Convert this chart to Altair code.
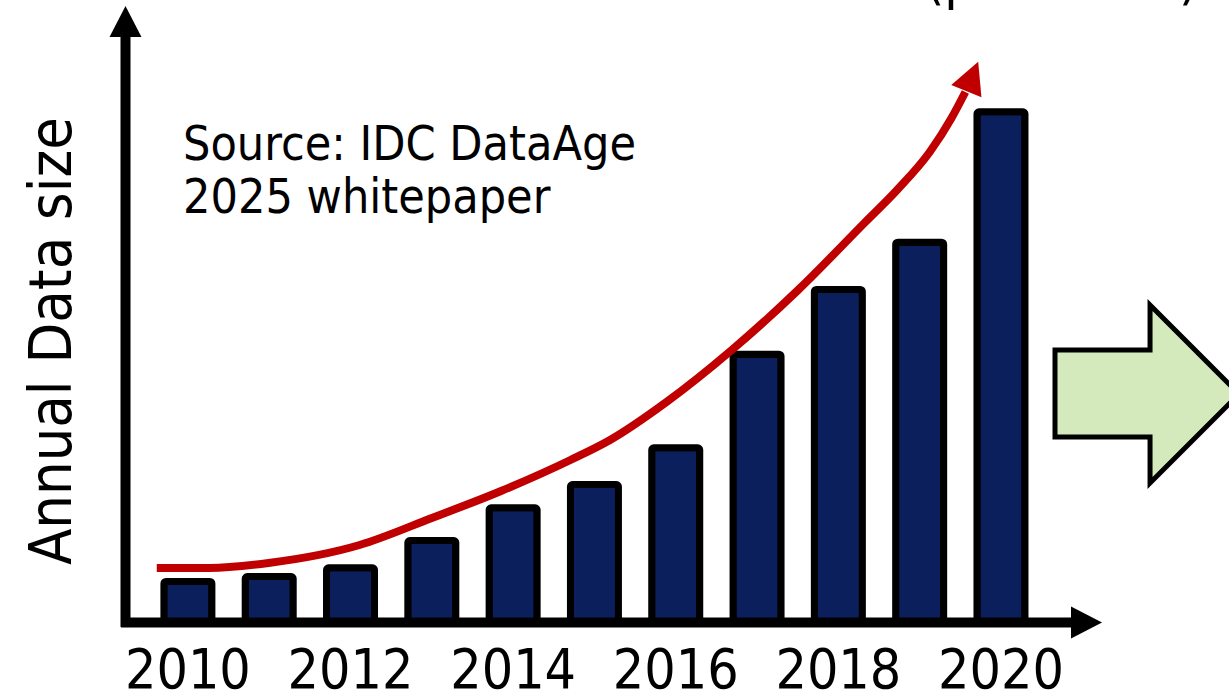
import altair as alt
import pandas as pd

# ---- data ----
years = [2010, 2011, 2012, 2013, 2014, 2015, 2016, 2017, 2018, 2019, 2020]
sizes = [5.2, 5.8, 6.9, 10.3, 14.4, 17.3, 21.9, 33.6, 41.7, 47.6, 63.9]
label_years = [2010, 2012, 2014, 2016, 2018, 2020]
label_texts = ["2010", "2012", "2014", "2016", "2018", "2020"]

trend_years = [2009.617, 2010.262, 2010.992, 2012.112, 2013.0, 2013.852,
               2014.705, 2015.192, 2015.886, 2016.689, 2017.505, 2018.32, 2018.722,
               2019.124, 2019.392, 2019.562]
trend_values = [6.875, 6.875, 7.5, 9.75, 13.125, 16.5, 20.375, 22.875, 27.625,
                34.125, 41.625, 50.0, 54.125, 58.875, 63.125, 66.375]
trend_head_year = [2019.647]
trend_head_value = [68.31]

source_text = "Source: IDC DataAge\n2025 whitepaper"
y_title = "Annual Data size"
top_text = "(predicted)"

FONT = "DejaVu Sans Condensed, DejaVu Sans, sans-serif"
NAVY = "#0b1f5c"
RED = "#c00000"
GREEN = "#d4eabd"

bars_df = pd.DataFrame({"year": years, "size": sizes})
labels_df = pd.DataFrame({"year": label_years, "label": label_texts})
trend_df = pd.DataFrame({"year": trend_years, "value": trend_values})
head_df = pd.DataFrame({"year": trend_head_year, "value": trend_head_value})
one = pd.DataFrame({"k": [0]})

xs = alt.Scale(domain=[2009.2879, 2021.1564], nice=False, zero=False)
ys = alt.Scale(domain=[0, 77.25], nice=False, zero=True)

bars = alt.Chart(bars_df).mark_bar(
    width=48, fill=NAVY, stroke="black", strokeWidth=7, strokeJoin="round", cornerRadius=2
).encode(
    x=alt.X("year:Q", scale=xs, axis=None),
    y=alt.Y("size:Q", scale=ys, axis=None),
)

tick_labels = alt.Chart(labels_df).mark_text(
    align="center", baseline="alphabetic", font=FONT, fontSize=55, color="black"
).encode(
    x=alt.X("year:Q", scale=xs, axis=None),
    y=alt.value(683),
    text="label:N",
)

y_label = alt.Chart(one).mark_text(
    text=y_title, angle=270, align="center", baseline="alphabetic",
    font=FONT, fontSize=59, color="black"
).encode(x=alt.value(-54), y=alt.value(336))

trend = alt.Chart(trend_df).mark_line(
    color=RED, strokeWidth=8, interpolate="monotone", strokeCap="butt"
).encode(
    x=alt.X("year:Q", scale=xs, axis=None),
    y=alt.Y("value:Q", scale=ys, axis=None),
)

trend_head = alt.Chart(head_df).mark_point(
    shape="M0,-1L1.03,1L-1.03,1Z", size=1000, angle=22, filled=True,
    fill=RED, strokeWidth=0, opacity=1
).encode(
    x=alt.X("year:Q", scale=xs, axis=None),
    y=alt.Y("value:Q", scale=ys, axis=None),
)

# decorative axis lines and arrowheads (pixel positions inside the plot area)
y_axis_line = alt.Chart(one).mark_rule(color="black", strokeWidth=10).encode(
    x=alt.value(0.5), y=alt.value(32), y2=alt.value(622))
x_axis_line = alt.Chart(one).mark_rule(color="black", strokeWidth=10).encode(
    x=alt.value(-4), x2=alt.value(948), y=alt.value(617.5))
y_arrow = alt.Chart(one).mark_point(
    shape="M0,-1L1.03,1L-1.03,1Z", size=961, filled=True, fill="black",
    strokeWidth=0, opacity=1).encode(x=alt.value(0.5), y=alt.value(16.5))
x_arrow = alt.Chart(one).mark_point(
    shape="M0,-1L1.03,1L-1.03,1Z", size=961, angle=90, filled=True, fill="black",
    strokeWidth=0, opacity=1).encode(x=alt.value(961.5), y=alt.value(617.5))

green_arrow = alt.Chart(one).mark_point(
    shape="M-1,-0.489L0.056,-0.489L0.056,-0.989L1.044,0L0.056,0.989L0.056,0.478L-1,0.478Z",
    size=32400, filled=True, fill=GREEN, stroke="black", strokeWidth=5, opacity=1,
    strokeJoin="miter").encode(x=alt.value(1020), y=alt.value(389))

source = alt.Chart(one).mark_text(
    text=source_text, lineBreak="\n", lineHeight=53, align="left",
    baseline="alphabetic", font=FONT, fontSize=48, color="black"
).encode(x=alt.value(58), y=alt.value(155))

top = alt.Chart(one).mark_text(
    text=top_text, align="left", baseline="alphabetic", font=FONT, fontSize=55,
    color="black").encode(x=alt.value(800), y=alt.value(-7))

chart = alt.layer(
    bars, trend, trend_head, y_axis_line, x_axis_line, y_arrow, x_arrow,
    green_arrow, source, top, tick_labels, y_label
).properties(
    width=975, height=618,
    autosize=alt.AutoSizeParams(type="none"),
    padding={"left": 125, "top": 5, "right": 129, "bottom": 73},
    background="white",
).configure_view(stroke=None)

chart.save("out.html", embed_options={"renderer": "svg", "actions": False})
